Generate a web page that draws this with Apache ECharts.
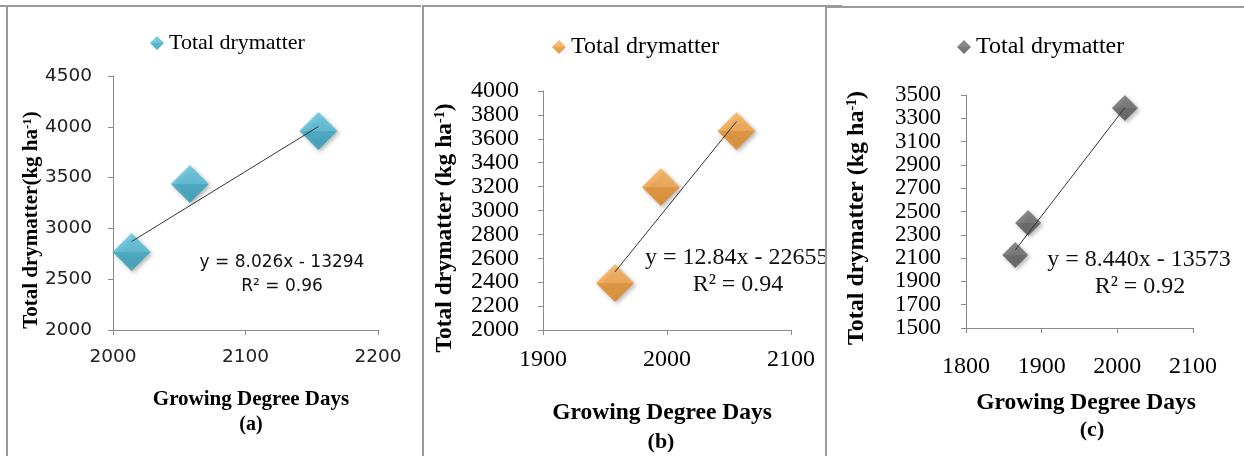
<!DOCTYPE html>
<html>
<head>
<meta charset="utf-8">
<script src="https://cdn.jsdelivr.net/npm/echarts@6/dist/echarts.min.js"></script>
<style>
  html, body { margin: 0; padding: 0; background: #fff; }
  body { width: 1244px; height: 456px; position: relative; overflow: hidden; }
  .c { position: absolute; top: 0; height: 456px; }
  .ln { position: absolute; background: #9a9a9a; z-index: 5; }
</style>
</head>
<body>
<div id="pa" class="c" style="left:0;width:422px"></div>
<div id="pb" class="c" style="left:424px;width:401px"></div>
<div id="pc" class="c" style="left:827px;width:417px"></div>
<div class="ln" style="left:0;top:5px;width:421px;height:2px"></div>
<div class="ln" style="left:6px;top:5px;width:2px;height:451px"></div>
<div class="ln" style="left:422px;top:5px;width:420px;height:2px"></div>
<div class="ln" style="left:422px;top:5px;width:2px;height:451px"></div>
<div class="ln" style="left:825px;top:6px;width:419px;height:2px"></div>
<div class="ln" style="left:825px;top:6px;width:2px;height:450px"></div>
<script>
// ---- data ----
const seriesName = 'Total drymatter';
const gddA = [2014, 2058, 2155];
const dmA  = [2768, 3437, 3959];
const gddB = [1958, 1995, 2056];
const dmB  = [2393, 3197, 3665];
const gddC = [1865, 1882, 2010];
const dmC  = [2127, 2401, 3388];
const trendA = [8.026, -13294];
const trendB = [12.84, -22655];
const trendC = [8.440, -13573];
const eqA = ['y = 8.026x - 13294', 'R² = 0.96'];
const eqB = ['y = 12.84x - 22655', 'R² = 0.94'];
const eqC = ['y = 8.440x - 13573', 'R² = 0.92'];
const xRangeA = [2000, 2200, 100];
const yRangeA = [2000, 4500, 500];
const xRangeB = [1900, 2100, 100];
const yRangeB = [2000, 4000, 200];
const xRangeC = [1800, 2100, 100];
const yRangeC = [1500, 3500, 200];
const xTitle = 'Growing Degree Days';
const yTitleA = ['Total drymatter(kg ha', '-1', ')'];
const yTitleBC = ['Total drymatter (kg ha', '-1', ')'];
const panelTags = ['(a)', '(b)', '(c)'];

function grad(c1, c2, c3, c4) {
  return new echarts.graphic.LinearGradient(0, 0, 0, 1, [
    { offset: 0, color: c1 }, { offset: 0.5, color: c2 },
    { offset: 0.5, color: c3 }, { offset: 1, color: c4 }
  ]);
}

function build(el, p) {
  const chart = echarts.init(document.getElementById(el), null, { renderer: 'canvas' });
  const pts = p.gdd.map((g, i) => [g, p.dm[i]]);
  const x0 = Math.min(...p.gdd), x1 = Math.max(...p.gdd);
  const trend = [[x0, p.trend[0] * x0 + p.trend[1]], [x1, p.trend[0] * x1 + p.trend[1]]];
  const titleFont = '"Liberation Serif", "Times New Roman", serif';
  const plain = v => String(v);
  const lbl = (m, size) => ({
    formatter: plain, margin: m, fontFamily: p.labelFont, fontSize: size,
    color: p.labelColor, showMinLabel: true, showMaxLabel: true, hideOverlap: false
  });
  chart.setOption({
    animation: false,
    backgroundColor: 'transparent',
    grid: p.grid,
    legend: {
      data: [seriesName], left: p.legend.left, top: p.legend.top, padding: 0,
      itemWidth: 14, itemHeight: 14, itemGap: 5,
      textStyle: { fontFamily: titleFont, fontSize: p.legend.size, color: '#000' }
    },
    xAxis: {
      type: 'value', min: p.xr[0], max: p.xr[1], interval: p.xr[2],
      axisLine: { lineStyle: { color: '#8a8a8a', width: 1 } },
      axisTick: { show: true, length: 5, lineStyle: { color: '#8a8a8a' } },
      splitLine: { show: false },
      axisLabel: lbl(p.xLabelMargin, p.labelSize)
    },
    yAxis: {
      type: 'value', min: p.yr[0], max: p.yr[1], interval: p.yr[2],
      axisLine: { show: true, lineStyle: { color: '#8a8a8a', width: 1 } },
      axisTick: { show: true, length: 5, lineStyle: { color: '#8a8a8a' } },
      splitLine: { show: false },
      axisLabel: lbl(p.yLabelMargin, p.yLabelSize || p.labelSize)
    },
    series: [
      {
        name: seriesName, type: 'scatter', symbol: 'diamond', symbolSize: p.symbolSize,
        data: pts, z: 2,
        itemStyle: {
          color: grad(...p.colors),
          shadowBlur: 4, shadowColor: 'rgba(0,0,0,0.35)', shadowOffsetX: 2, shadowOffsetY: 2
        }
      },
      {
        name: 'trend', type: 'line', data: trend, symbol: 'none', z: 5,
        lineStyle: { color: '#333', width: 1 }, silent: true
      }
    ],
    graphic: [
      {
        type: 'text', x: p.yTitle.x, y: p.yTitle.y, rotation: Math.PI / 2,
        style: {
          text: '{a|' + p.yTitle.text[0] + '}{s|' + p.yTitle.text[1] + '}{a|' + p.yTitle.text[2] + '}',
          align: 'center', verticalAlign: 'middle',
          rich: {
            a: { fontFamily: titleFont, fontWeight: 'bold', fontSize: p.yTitle.size, lineHeight: p.yTitle.size, fill: '#000' },
            s: { fontFamily: titleFont, fontWeight: 'bold', fontSize: Math.round(p.yTitle.size * 0.6), lineHeight: p.yTitle.size * 0.6, verticalAlign: 'top', fill: '#000' }
          }
        }
      },
      {
        type: 'text', x: p.xTitle.x, y: p.xTitle.y,
        style: { text: xTitle, align: 'center', verticalAlign: 'middle',
          fontFamily: titleFont, fontWeight: 'bold', fontSize: p.xTitle.size, fill: '#000' }
      },
      {
        type: 'text', x: p.tag.x, y: p.tag.y,
        style: { text: p.tag.text, align: 'center', verticalAlign: 'middle',
          fontFamily: titleFont, fontWeight: 'bold', fontSize: p.tag.size, fill: '#000' }
      },
      {
        type: 'text', x: p.eq1.x, y: p.eq1.y,
        style: { text: p.eq[0], align: p.eq1.align, verticalAlign: 'middle',
          fontFamily: p.eqFont, fontSize: p.eqSize, fill: '#111' }
      },
      {
        type: 'text', x: p.eq2.x, y: p.eq2.y,
        style: { text: p.eq[1], align: 'center', verticalAlign: 'middle',
          fontFamily: p.eqFont, fontSize: p.eqSize, fill: '#111' }
      }
    ]
  });
}

const serifLbl = '"Liberation Serif", "Times New Roman", serif';

build('pa', {
  gdd: gddA, dm: dmA, trend: trendA, eq: eqA, xr: xRangeA, yr: yRangeA,
  grid: { left: 113, top: 76, width: 265, height: 254 },
  legend: { left: 150, top: 32, size: 22 },
  labelFont: '"DejaVu Sans", sans-serif', labelSize: 18.5, labelColor: '#222',
  xLabelMargin: 18, yLabelMargin: 21,
  symbolSize: 38, colors: ['#5FC4DE', '#4AB7D3', '#33A4C2', '#2B98B6'],
  yTitle: { x: 32, y: 220, size: 21, text: yTitleA },
  xTitle: { x: 251, y: 400, size: 21 },
  tag: { x: 251, y: 425, size: 20, text: panelTags[0] },
  eqFont: '"DejaVu Sans", sans-serif', eqSize: 17,
  eq1: { x: 282, y: 263, align: 'center' }, eq2: { x: 282, y: 287 }
});

build('pb', {
  gdd: gddB, dm: dmB, trend: trendB, eq: eqB, xr: xRangeB, yr: yRangeB,
  grid: { left: 119, top: 91, width: 248, height: 239 },
  legend: { left: 128, top: 35, size: 24 },
  labelFont: serifLbl, labelSize: 24, labelColor: '#000',
  xLabelMargin: 18, yLabelMargin: 24,
  symbolSize: 38, colors: ['#F7B25A', '#F2A040', '#E48C24', '#DC821C'],
  yTitle: { x: 21, y: 228, size: 23.5, text: yTitleBC },
  xTitle: { x: 238, y: 413, size: 23.5 },
  tag: { x: 237, y: 442, size: 22, text: panelTags[1] },
  eqFont: serifLbl, eqSize: 24,
  eq1: { x: 221, y: 258, align: 'left' }, eq2: { x: 314, y: 285 }
});

build('pc', {
  gdd: gddC, dm: dmC, trend: trendC, eq: eqC, xr: xRangeC, yr: yRangeC,
  grid: { left: 139, top: 95, width: 227, height: 233 },
  legend: { left: 130, top: 35, size: 24 },
  labelFont: serifLbl, labelSize: 24, yLabelSize: 23, labelColor: '#000',
  xLabelMargin: 27, yLabelMargin: 25,
  symbolSize: 26, colors: ['#707070', '#666666', '#585858', '#505050'],
  yTitle: { x: 30, y: 218, size: 24, text: yTitleBC },
  xTitle: { x: 259, y: 403, size: 23.5 },
  tag: { x: 265, y: 430, size: 22, text: panelTags[2] },
  eqFont: serifLbl, eqSize: 24,
  eq1: { x: 312, y: 260, align: 'center' }, eq2: { x: 313, y: 287 }
});
</script>
</body>
</html>
